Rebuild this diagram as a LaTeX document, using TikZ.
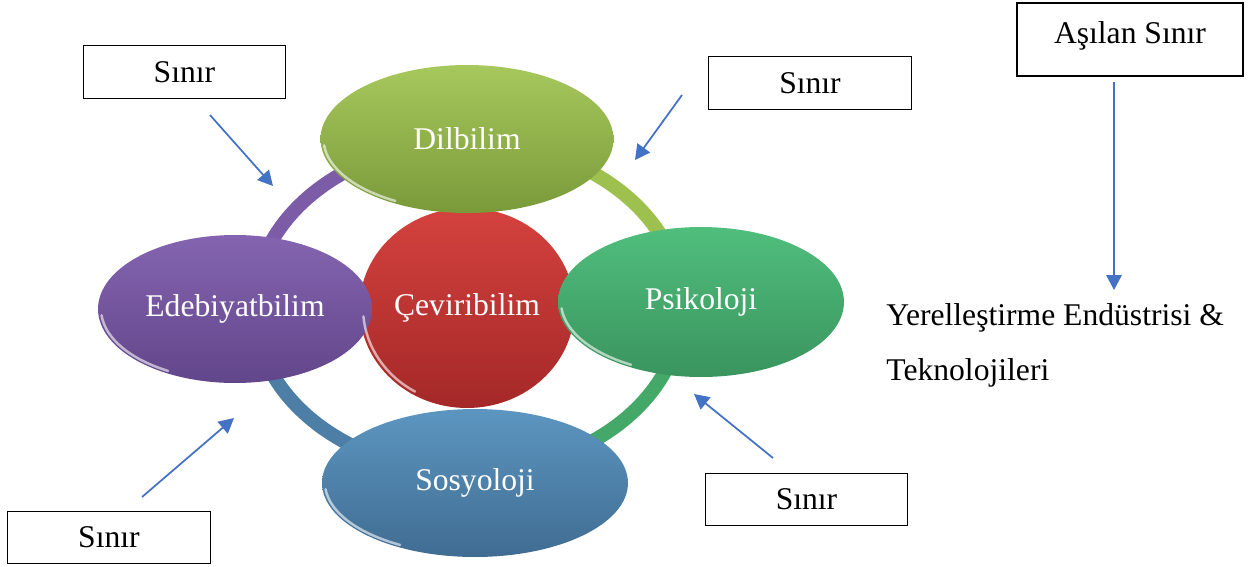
\documentclass[tikz,border=0pt]{standalone}
\usepackage{fontspec}
\setmainfont{Liberation Serif}
\usetikzlibrary{shapes.geometric,arrows.meta}

\definecolor{okmavi}{RGB}{68,114,196}
\definecolor{halkamor}{RGB}{124,92,166}
\definecolor{halkasari}{RGB}{158,192,78}
\definecolor{halkayesil}{RGB}{68,168,104}
\definecolor{halkamavi}{RGB}{76,126,166}

\tikzset{
  kutu/.style={draw=black, line width=0.75pt, minimum width=4.05cm, minimum height=1.05cm, inner sep=0pt},
  elips/.style={ellipse, draw=none, text=white, inner sep=0pt, minimum height=2.96cm},
  ok/.style={draw=okmavi, line width=1pt, -{Triangle[length=0.3cm,width=0.31cm]}},
  halka/.style={line width=0.28cm},
  parlak/.style={draw=white, line width=1.4pt, opacity=0.6, line cap=round},
  dilrenk/.style={top color={rgb,255:red,166;green,200;blue,92}, bottom color={rgb,255:red,122;green,154;blue,58}},
  edebrenk/.style={top color={rgb,255:red,132;green,100;blue,176}, bottom color={rgb,255:red,98;green,70;blue,138}},
  psikrenk/.style={top color={rgb,255:red,80;green,190;blue,125}, bottom color={rgb,255:red,58;green,148;blue,94}},
  sosyrenk/.style={top color={rgb,255:red,92;green,150;blue,192}, bottom color={rgb,255:red,64;green,108;blue,146}},
  cevrenk/.style={top color={rgb,255:red,212;green,66;blue,62}, bottom color={rgb,255:red,164;green,40;blue,40}},
}

\begin{document}
\begin{tikzpicture}[x=0.02cm, y=-0.02cm, font=\fontsize{18}{31.3}\selectfont]
\useasboundingbox (0,0) rectangle (1248,566);

% Halka
\coordinate (merkez) at (468,307);
\draw[halka, draw=halkasari] (merkez) ++(0:4.28cm and 3.3cm) arc[start angle=0, end angle=90, x radius=4.28cm, y radius=3.3cm];
\draw[halka, draw=halkamor] (merkez) ++(90:4.28cm and 3.3cm) arc[start angle=90, end angle=180, x radius=4.28cm, y radius=3.3cm];
\draw[halka, draw=halkamavi] (merkez) ++(180:4.28cm and 3.3cm) arc[start angle=180, end angle=270, x radius=4.28cm, y radius=3.3cm];
\draw[halka, draw=halkayesil] (merkez) ++(270:4.28cm and 3.3cm) arc[start angle=270, end angle=360, x radius=4.28cm, y radius=3.3cm];

% Elipsler
\node[elips, cevrenk, minimum width=4.3cm, minimum height=4cm] (ceviri) at (467,308) {Çeviribilim};
\node[elips, dilrenk, minimum width=5.86cm] (dil) at (467,139) {Dilbilim};
\node[elips, edebrenk, minimum width=5.48cm] (edeb) at (235,309) {Edebiyatbilim};
\node[elips, psikrenk, minimum width=5.72cm, minimum height=3cm] (psik) at (701,302) {Psikoloji};
\node[elips, sosyrenk, minimum width=6.12cm] (sosy) at (475,483) {Sosyoloji};

% Parlak kenarlar
\foreach \ad/\rx/\ry in {ceviri/2.08/1.93, dil/2.87/1.43, edeb/2.68/1.43, psik/2.8/1.45, sosy/3/1.43}
  \draw[parlak] (\ad.center) ++(185:\rx cm and \ry cm) arc[start angle=185, end angle=240, x radius=\rx cm, y radius=\ry cm];

% Sinir kutulari
\node[kutu] (sinirA) at (184.5,72) {Sınır};
\node[kutu] (sinirB) at (810,83) {Sınır};
\node[kutu] (sinirC) at (806.5,499.5) {Sınır};
\node[kutu] (sinirD) at (109,537.5) {Sınır};
\node[kutu, minimum width=4.52cm, minimum height=1.46cm, text height=0.44cm, text depth=0.3cm] (asilan) at (1130,39.5) {Aşılan Sınır};
\node[anchor=north west, align=left, inner sep=0pt] (yerel) at (886,303) {Yerelleştirme Endüstrisi \&\\Teknolojileri};

% Oklar
\coordinate (okA1) at (210,115);
\coordinate (okA2) at (273,186);
\coordinate (okB1) at (682,95);
\coordinate (okB2) at (635,160);
\coordinate (okC1) at (773,458);
\coordinate (okC2) at (694,394);
\coordinate (okD1) at (142,497);
\coordinate (okD2) at (234,418);
\coordinate (okE1) at (1114,82);
\coordinate (okE2) at (1114,290);
\draw[ok] (okA1) -- (okA2);
\draw[ok] (okB1) -- (okB2);
\draw[ok] (okC1) -- (okC2);
\draw[ok] (okD1) -- (okD2);
\draw[ok] (okE1) -- (okE2);
\end{tikzpicture}
\end{document}
